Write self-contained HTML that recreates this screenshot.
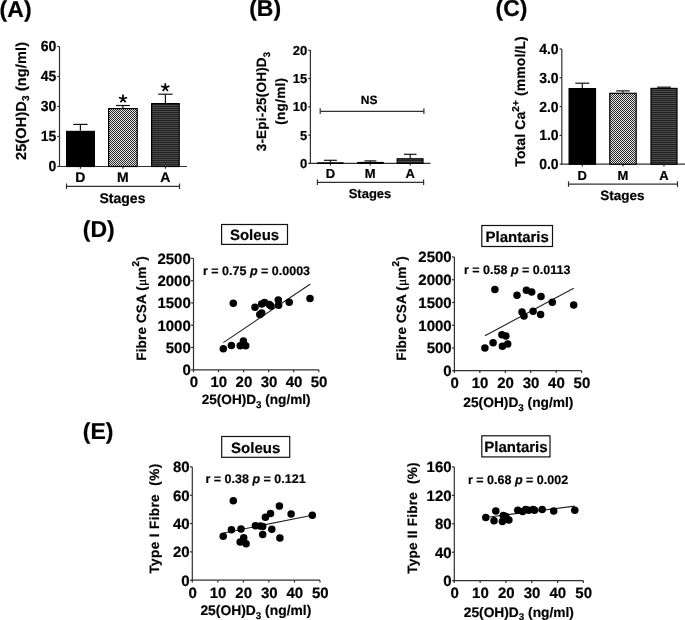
<!DOCTYPE html>
<html><head><meta charset="utf-8"><style>
html,body{margin:0;padding:0;background:#fff;width:685px;height:620px;overflow:hidden}
svg{display:block;will-change:transform}
</style></head><body>
<svg width="685" height="620" viewBox="0 0 685 620" font-family="Liberation Sans, sans-serif" font-weight="bold" fill="#000" text-rendering="geometricPrecision">
<style>text{stroke:#000;stroke-width:0.2px}</style>
<defs>
<pattern id="chk" width="2" height="2" patternUnits="userSpaceOnUse">
<rect width="2" height="2" fill="#e8e8e8"/><rect width="1" height="1" fill="#262626"/><rect x="1" y="1" width="1" height="1" fill="#262626"/>
</pattern>
<pattern id="hst" width="4" height="2" patternUnits="userSpaceOnUse">
<rect width="4" height="2" fill="#202020"/><rect y="1" width="4" height="1" fill="#4c4c4c"/>
</pattern>
</defs>
<text x="-0.4" y="16.8" font-size="23" text-anchor="start" >(A)</text>
<text x="249.2" y="16.4" font-size="23" text-anchor="start" >(B)</text>
<text x="495.6" y="16.4" font-size="23" text-anchor="start" >(C)</text>
<text x="82.8" y="236.6" font-size="23" text-anchor="start" >(D)</text>
<text x="82.8" y="439.2" font-size="23" text-anchor="start" >(E)</text>
<line x1="59.5" y1="46.5" x2="59.5" y2="166.5" stroke="#303030" stroke-width="1.2"/>
<line x1="57.3" y1="46.5" x2="59.5" y2="46.5" stroke="#303030" stroke-width="1.2"/>
<text x="56.3" y="48.686" font-size="14" text-anchor="end" transform="scale(1 1.05)" >60</text>
<line x1="57.3" y1="76.5" x2="59.5" y2="76.5" stroke="#303030" stroke-width="1.2"/>
<text x="56.3" y="77.257" font-size="14" text-anchor="end" transform="scale(1 1.05)" >45</text>
<line x1="57.3" y1="106.5" x2="59.5" y2="106.5" stroke="#303030" stroke-width="1.2"/>
<text x="56.3" y="105.829" font-size="14" text-anchor="end" transform="scale(1 1.05)" >30</text>
<line x1="57.3" y1="136.5" x2="59.5" y2="136.5" stroke="#303030" stroke-width="1.2"/>
<text x="56.3" y="134.400" font-size="14" text-anchor="end" transform="scale(1 1.05)" >15</text>
<line x1="57.3" y1="166.5" x2="59.5" y2="166.5" stroke="#303030" stroke-width="1.2"/>
<text x="56.3" y="162.971" font-size="14" text-anchor="end" transform="scale(1 1.05)" >0</text>
<line x1="58.9" y1="166.5" x2="187" y2="166.5" stroke="#303030" stroke-width="1.2"/>
<line x1="80.4" y1="166.5" x2="80.4" y2="168.7" stroke="#303030" stroke-width="1.2"/>
<line x1="122.9" y1="166.5" x2="122.9" y2="168.7" stroke="#303030" stroke-width="1.2"/>
<line x1="165.4" y1="166.5" x2="165.4" y2="168.7" stroke="#303030" stroke-width="1.2"/>
<rect x="66.6" y="131.4" width="27.8" height="35.09999999999999" fill="#000" stroke="#000" stroke-width="1.2"/>
<rect x="108.6" y="108.6" width="28.600000000000012" height="57.9" fill="url(#chk)" stroke="#000" stroke-width="1.2"/>
<rect x="151.6" y="103.6" width="27.600000000000012" height="62.9" fill="url(#hst)" stroke="#000" stroke-width="1.2"/>
<line x1="80.4" y1="124.4" x2="80.4" y2="130.8" stroke="#111" stroke-width="1.2"/>
<line x1="73.2" y1="124.4" x2="87.60000000000001" y2="124.4" stroke="#111" stroke-width="1.2"/>
<line x1="122.9" y1="105.5" x2="122.9" y2="108" stroke="#111" stroke-width="1.2"/>
<line x1="115.9" y1="105.5" x2="129.9" y2="105.5" stroke="#111" stroke-width="1.2"/>
<line x1="165.4" y1="94.2" x2="165.4" y2="103" stroke="#111" stroke-width="1.2"/>
<line x1="158.20000000000002" y1="94.2" x2="172.6" y2="94.2" stroke="#111" stroke-width="1.2"/>
<text x="80.4" y="181.9" font-size="14" text-anchor="middle" >D</text>
<text x="122.9" y="181.9" font-size="14" text-anchor="middle" >M</text>
<text x="165.4" y="181.9" font-size="14" text-anchor="middle" >A</text>
<line x1="66.5" y1="186.3" x2="179.5" y2="186.3" stroke="#303030" stroke-width="1.2"/>
<line x1="66.5" y1="183.5" x2="66.5" y2="189.10000000000002" stroke="#303030" stroke-width="1.2"/>
<line x1="179.5" y1="183.5" x2="179.5" y2="189.10000000000002" stroke="#303030" stroke-width="1.2"/>
<text x="122.5" y="202.5" font-size="14" text-anchor="middle" >Stages</text>
<path d="M123.00 98.80L123.00 94.50M123.00 98.80L127.09 97.47M123.00 98.80L125.53 102.28M123.00 98.80L120.47 102.28M123.00 98.80L118.91 97.47" stroke="#000" stroke-width="1.7" fill="none"/>
<path d="M165.30 87.50L165.30 83.20M165.30 87.50L169.39 86.17M165.30 87.50L167.83 90.98M165.30 87.50L162.77 90.98M165.30 87.50L161.21 86.17" stroke="#000" stroke-width="1.7" fill="none"/>
<text x="26.2" y="100.9" font-size="14.5" text-anchor="middle" transform="rotate(-90 26.2 100.9)" letter-spacing="0.15">25(OH)D<tspan font-size="10" dy="3.3">3</tspan><tspan dy="-3.3"> (ng/ml)</tspan></text>
<line x1="310.4" y1="50.3" x2="310.4" y2="163.4" stroke="#303030" stroke-width="1.2"/>
<line x1="308.2" y1="50.3" x2="310.4" y2="50.3" stroke="#303030" stroke-width="1.2"/>
<text x="307.2" y="54.98" font-size="13" text-anchor="end" >20</text>
<line x1="308.2" y1="78.5" x2="310.4" y2="78.5" stroke="#303030" stroke-width="1.2"/>
<text x="307.2" y="83.18" font-size="13" text-anchor="end" >15</text>
<line x1="308.2" y1="106.8" x2="310.4" y2="106.8" stroke="#303030" stroke-width="1.2"/>
<text x="307.2" y="111.47999999999999" font-size="13" text-anchor="end" >10</text>
<line x1="308.2" y1="135.1" x2="310.4" y2="135.1" stroke="#303030" stroke-width="1.2"/>
<text x="307.2" y="139.78" font-size="13" text-anchor="end" >5</text>
<line x1="308.2" y1="163.4" x2="310.4" y2="163.4" stroke="#303030" stroke-width="1.2"/>
<text x="307.2" y="168.08" font-size="13" text-anchor="end" >0</text>
<line x1="309.79999999999995" y1="163.4" x2="430.5" y2="163.4" stroke="#303030" stroke-width="1.2"/>
<line x1="330.4" y1="163.4" x2="330.4" y2="165.6" stroke="#303030" stroke-width="1.2"/>
<line x1="370.2" y1="163.4" x2="370.2" y2="165.6" stroke="#303030" stroke-width="1.2"/>
<line x1="410.2" y1="163.4" x2="410.2" y2="165.6" stroke="#303030" stroke-width="1.2"/>
<rect x="317.70000000000005" y="162.9" width="25.399999999999967" height="0.49999999999999434" fill="#000" stroke="#000" stroke-width="1.2"/>
<rect x="357.8" y="162.5" width="25.400000000000023" height="0.9" fill="url(#chk)" stroke="#000" stroke-width="1.2"/>
<rect x="397.20000000000005" y="158.79999999999998" width="25.8" height="4.600000000000017" fill="url(#hst)" stroke="#000" stroke-width="1.2"/>
<line x1="330.4" y1="160.3" x2="330.4" y2="163" stroke="#111" stroke-width="1.2"/>
<line x1="323.9" y1="160.3" x2="336.9" y2="160.3" stroke="#111" stroke-width="1.2"/>
<line x1="370.4" y1="160.9" x2="370.4" y2="162" stroke="#111" stroke-width="1.2"/>
<line x1="364.4" y1="160.9" x2="376.4" y2="160.9" stroke="#111" stroke-width="1.2"/>
<line x1="410.2" y1="154.3" x2="410.2" y2="158.2" stroke="#111" stroke-width="1.2"/>
<line x1="403.9" y1="154.3" x2="416.5" y2="154.3" stroke="#111" stroke-width="1.2"/>
<text x="330.4" y="178.2" font-size="13" text-anchor="middle" >D</text>
<text x="370.2" y="178.2" font-size="13" text-anchor="middle" >M</text>
<text x="410.2" y="178.2" font-size="13" text-anchor="middle" >A</text>
<line x1="317.4" y1="182.3" x2="423.6" y2="182.3" stroke="#303030" stroke-width="1.2"/>
<line x1="317.4" y1="179.5" x2="317.4" y2="185.10000000000002" stroke="#303030" stroke-width="1.2"/>
<line x1="423.6" y1="179.5" x2="423.6" y2="185.10000000000002" stroke="#303030" stroke-width="1.2"/>
<text x="370" y="197.9" font-size="13" text-anchor="middle" >Stages</text>
<line x1="320.2" y1="111.3" x2="423.9" y2="111.3" stroke="#333" stroke-width="1.2"/>
<line x1="320.2" y1="108.3" x2="320.2" y2="114.1" stroke="#333" stroke-width="1.2"/>
<line x1="423.9" y1="108.3" x2="423.9" y2="114.1" stroke="#333" stroke-width="1.2"/>
<text x="369.2" y="104.2" font-size="12" text-anchor="middle" >NS</text>
<text x="266.3" y="101.5" font-size="13.5" text-anchor="middle" transform="rotate(-90 266.3 101.5)" letter-spacing="0.2">3-Epi-25(OH)D<tspan font-size="9.5" dy="3.3">3</tspan></text>
<text x="284.6" y="101.2" font-size="13.5" text-anchor="middle" transform="rotate(-90 284.6 101.2)" letter-spacing="0.3">(ng/ml)</text>
<line x1="561.8" y1="49" x2="561.8" y2="164.2" stroke="#303030" stroke-width="1.2"/>
<line x1="559.5999999999999" y1="49" x2="561.8" y2="49" stroke="#303030" stroke-width="1.2"/>
<text x="558.5999999999999" y="51.400" font-size="14" text-anchor="end" transform="scale(1 1.05)" >4.0</text>
<line x1="559.5999999999999" y1="77.8" x2="561.8" y2="77.8" stroke="#303030" stroke-width="1.2"/>
<text x="558.5999999999999" y="78.829" font-size="14" text-anchor="end" transform="scale(1 1.05)" >3.0</text>
<line x1="559.5999999999999" y1="106.6" x2="561.8" y2="106.6" stroke="#303030" stroke-width="1.2"/>
<text x="558.5999999999999" y="106.257" font-size="14" text-anchor="end" transform="scale(1 1.05)" >2.0</text>
<line x1="559.5999999999999" y1="135.4" x2="561.8" y2="135.4" stroke="#303030" stroke-width="1.2"/>
<text x="558.5999999999999" y="133.686" font-size="14" text-anchor="end" transform="scale(1 1.05)" >1.0</text>
<line x1="559.5999999999999" y1="164.2" x2="561.8" y2="164.2" stroke="#303030" stroke-width="1.2"/>
<text x="558.5999999999999" y="161.114" font-size="14" text-anchor="end" transform="scale(1 1.05)" >0.0</text>
<line x1="561.1999999999999" y1="164.2" x2="685" y2="164.2" stroke="#303030" stroke-width="1.2"/>
<line x1="582.3" y1="164.2" x2="582.3" y2="166.39999999999998" stroke="#303030" stroke-width="1.2"/>
<line x1="623" y1="164.2" x2="623" y2="166.39999999999998" stroke="#303030" stroke-width="1.2"/>
<line x1="664" y1="164.2" x2="664" y2="166.39999999999998" stroke="#303030" stroke-width="1.2"/>
<rect x="569.1" y="88.6" width="26.400000000000023" height="75.6" fill="#000" stroke="#000" stroke-width="1.2"/>
<rect x="609.8000000000001" y="93.3" width="26.39999999999991" height="70.89999999999999" fill="url(#chk)" stroke="#000" stroke-width="1.2"/>
<rect x="651.0" y="88.39999999999999" width="26.000000000000046" height="75.8" fill="url(#hst)" stroke="#000" stroke-width="1.2"/>
<line x1="582.3" y1="83.2" x2="582.3" y2="88" stroke="#111" stroke-width="1.2"/>
<line x1="575.3" y1="83.2" x2="589.3" y2="83.2" stroke="#111" stroke-width="1.2"/>
<line x1="623" y1="90.9" x2="623" y2="92.7" stroke="#111" stroke-width="1.2"/>
<line x1="616.2" y1="90.9" x2="629.8" y2="90.9" stroke="#111" stroke-width="1.2"/>
<line x1="664" y1="87.2" x2="664" y2="87.8" stroke="#111" stroke-width="1.2"/>
<line x1="657.1" y1="87.2" x2="670.9" y2="87.2" stroke="#111" stroke-width="1.2"/>
<text x="582.3" y="180" font-size="13" text-anchor="middle" >D</text>
<text x="623" y="180" font-size="13" text-anchor="middle" >M</text>
<text x="664" y="180" font-size="13" text-anchor="middle" >A</text>
<line x1="568.5" y1="184.1" x2="677.5" y2="184.1" stroke="#303030" stroke-width="1.2"/>
<line x1="568.5" y1="181.29999999999998" x2="568.5" y2="186.9" stroke="#303030" stroke-width="1.2"/>
<line x1="677.5" y1="181.29999999999998" x2="677.5" y2="186.9" stroke="#303030" stroke-width="1.2"/>
<text x="622.5" y="199.8" font-size="13.5" text-anchor="middle" >Stages</text>
<text x="525.5" y="101.4" font-size="14" text-anchor="middle" transform="rotate(-90 525.5 101.4)" letter-spacing="0.1">Total Ca<tspan font-size="10" dy="-6">2+</tspan><tspan dy="6"> (mmol/L)</tspan></text>
<line x1="193.5" y1="258.4" x2="193.5" y2="369.8" stroke="#303030" stroke-width="1.2"/>
<line x1="191.1" y1="258.4" x2="193.5" y2="258.4" stroke="#303030" stroke-width="1.2"/>
<text x="190.8" y="263.79999999999995" font-size="15" text-anchor="end" >2500</text>
<line x1="191.1" y1="280.68" x2="193.5" y2="280.68" stroke="#303030" stroke-width="1.2"/>
<text x="190.8" y="286.08" font-size="15" text-anchor="end" >2000</text>
<line x1="191.1" y1="302.96" x2="193.5" y2="302.96" stroke="#303030" stroke-width="1.2"/>
<text x="190.8" y="308.35999999999996" font-size="15" text-anchor="end" >1500</text>
<line x1="191.1" y1="325.24" x2="193.5" y2="325.24" stroke="#303030" stroke-width="1.2"/>
<text x="190.8" y="330.64" font-size="15" text-anchor="end" >1000</text>
<line x1="191.1" y1="347.52" x2="193.5" y2="347.52" stroke="#303030" stroke-width="1.2"/>
<text x="190.8" y="352.91999999999996" font-size="15" text-anchor="end" >500</text>
<line x1="191.1" y1="369.8" x2="193.5" y2="369.8" stroke="#303030" stroke-width="1.2"/>
<text x="190.8" y="375.2" font-size="15" text-anchor="end" >0</text>
<line x1="192.9" y1="369.8" x2="318.8" y2="369.8" stroke="#303030" stroke-width="1.2"/>
<line x1="193.5" y1="369.8" x2="193.5" y2="372.2" stroke="#303030" stroke-width="1.2"/>
<text x="193.8" y="387.1" font-size="15" text-anchor="middle" >0</text>
<line x1="218.56" y1="369.8" x2="218.56" y2="372.2" stroke="#303030" stroke-width="1.2"/>
<text x="218.86" y="387.1" font-size="15" text-anchor="middle" >10</text>
<line x1="243.62" y1="369.8" x2="243.62" y2="372.2" stroke="#303030" stroke-width="1.2"/>
<text x="243.92000000000002" y="387.1" font-size="15" text-anchor="middle" >20</text>
<line x1="268.68" y1="369.8" x2="268.68" y2="372.2" stroke="#303030" stroke-width="1.2"/>
<text x="268.98" y="387.1" font-size="15" text-anchor="middle" >30</text>
<line x1="293.74" y1="369.8" x2="293.74" y2="372.2" stroke="#303030" stroke-width="1.2"/>
<text x="294.04" y="387.1" font-size="15" text-anchor="middle" >40</text>
<line x1="318.8" y1="369.8" x2="318.8" y2="372.2" stroke="#303030" stroke-width="1.2"/>
<text x="319.1" y="387.1" font-size="15" text-anchor="middle" >50</text>
<rect x="221.6" y="224.5" width="65.9" height="19.900000000000006" fill="none" stroke="#111" stroke-width="1.2"/>
<text x="254.55" y="239.8" font-size="15" text-anchor="middle" >Soleus</text>
<text x="203.0" y="274.8" font-size="12.5" text-anchor="start" >r = 0.75 <tspan font-style="italic">p</tspan> = 0.0003</text>
<line x1="223.3" y1="342.6" x2="310.4" y2="284" stroke="#222" stroke-width="1.1"/>
<circle cx="223.3" cy="348.7" r="3.75" fill="#000"/>
<circle cx="231.4" cy="345.4" r="3.75" fill="#000"/>
<circle cx="233.3" cy="303.3" r="3.75" fill="#000"/>
<circle cx="240.2" cy="345.8" r="3.75" fill="#000"/>
<circle cx="243.4" cy="341" r="3.75" fill="#000"/>
<circle cx="245.7" cy="345.8" r="3.75" fill="#000"/>
<circle cx="255" cy="307.3" r="3.75" fill="#000"/>
<circle cx="259.8" cy="314.5" r="3.75" fill="#000"/>
<circle cx="261.7" cy="312.9" r="3.75" fill="#000"/>
<circle cx="261.7" cy="304.1" r="3.75" fill="#000"/>
<circle cx="264.6" cy="302.5" r="3.75" fill="#000"/>
<circle cx="269.4" cy="304.4" r="3.75" fill="#000"/>
<circle cx="271" cy="306" r="3.75" fill="#000"/>
<circle cx="278.3" cy="300.1" r="3.75" fill="#000"/>
<circle cx="278.6" cy="305.2" r="3.75" fill="#000"/>
<circle cx="289.2" cy="302.2" r="3.75" fill="#000"/>
<circle cx="310" cy="298.5" r="3.75" fill="#000"/>
<text x="146.3" y="308.4" font-size="13.5" text-anchor="middle" transform="rotate(-90 146.3 308.4)" letter-spacing="0.15">Fibre CSA (<tspan font-family="Liberation Serif, serif" font-weight="normal">μ</tspan>m<tspan font-size="10" dy="-6.8">2</tspan><tspan dy="6.8">)</tspan></text>
<text x="256.15" y="404.2" font-size="13.6" text-anchor="middle" >25(OH)D<tspan font-size="9.8" dy="3.6">3</tspan><tspan dy="-3.6"> (ng/ml)</tspan></text>
<line x1="454.4" y1="257" x2="454.4" y2="370.7" stroke="#303030" stroke-width="1.2"/>
<line x1="452.0" y1="257.0" x2="454.4" y2="257.0" stroke="#303030" stroke-width="1.2"/>
<text x="451.7" y="262.4" font-size="15" text-anchor="end" >2500</text>
<line x1="452.0" y1="279.74" x2="454.4" y2="279.74" stroke="#303030" stroke-width="1.2"/>
<text x="451.7" y="285.14" font-size="15" text-anchor="end" >2000</text>
<line x1="452.0" y1="302.48" x2="454.4" y2="302.48" stroke="#303030" stroke-width="1.2"/>
<text x="451.7" y="307.88" font-size="15" text-anchor="end" >1500</text>
<line x1="452.0" y1="325.22" x2="454.4" y2="325.22" stroke="#303030" stroke-width="1.2"/>
<text x="451.7" y="330.62" font-size="15" text-anchor="end" >1000</text>
<line x1="452.0" y1="347.96" x2="454.4" y2="347.96" stroke="#303030" stroke-width="1.2"/>
<text x="451.7" y="353.35999999999996" font-size="15" text-anchor="end" >500</text>
<line x1="452.0" y1="370.7" x2="454.4" y2="370.7" stroke="#303030" stroke-width="1.2"/>
<text x="451.7" y="376.09999999999997" font-size="15" text-anchor="end" >0</text>
<line x1="453.79999999999995" y1="370.7" x2="581.6" y2="370.7" stroke="#303030" stroke-width="1.2"/>
<line x1="454.4" y1="370.7" x2="454.4" y2="373.09999999999997" stroke="#303030" stroke-width="1.2"/>
<text x="454.7" y="388.0" font-size="15" text-anchor="middle" >0</text>
<line x1="479.84" y1="370.7" x2="479.84" y2="373.09999999999997" stroke="#303030" stroke-width="1.2"/>
<text x="480.14" y="388.0" font-size="15" text-anchor="middle" >10</text>
<line x1="505.28" y1="370.7" x2="505.28" y2="373.09999999999997" stroke="#303030" stroke-width="1.2"/>
<text x="505.58" y="388.0" font-size="15" text-anchor="middle" >20</text>
<line x1="530.72" y1="370.7" x2="530.72" y2="373.09999999999997" stroke="#303030" stroke-width="1.2"/>
<text x="531.02" y="388.0" font-size="15" text-anchor="middle" >30</text>
<line x1="556.16" y1="370.7" x2="556.16" y2="373.09999999999997" stroke="#303030" stroke-width="1.2"/>
<text x="556.4599999999999" y="388.0" font-size="15" text-anchor="middle" >40</text>
<line x1="581.6" y1="370.7" x2="581.6" y2="373.09999999999997" stroke="#303030" stroke-width="1.2"/>
<text x="581.9" y="388.0" font-size="15" text-anchor="middle" >50</text>
<rect x="481.8" y="225.5" width="70.69999999999999" height="21.0" fill="none" stroke="#111" stroke-width="1.2"/>
<text x="517.15" y="241.9" font-size="15" text-anchor="middle" >Plantaris</text>
<text x="464.0" y="273.9" font-size="12.5" text-anchor="start" >r = 0.58 <tspan font-style="italic">p</tspan> = 0.0113</text>
<line x1="484.9" y1="335.7" x2="573.7" y2="288.2" stroke="#222" stroke-width="1.1"/>
<circle cx="484.9" cy="348" r="3.75" fill="#000"/>
<circle cx="493.1" cy="342.7" r="3.75" fill="#000"/>
<circle cx="494.9" cy="289.6" r="3.75" fill="#000"/>
<circle cx="501.9" cy="334.8" r="3.75" fill="#000"/>
<circle cx="505.9" cy="336.1" r="3.75" fill="#000"/>
<circle cx="502.4" cy="346.2" r="3.75" fill="#000"/>
<circle cx="507.7" cy="343.9" r="3.75" fill="#000"/>
<circle cx="517" cy="295.2" r="3.75" fill="#000"/>
<circle cx="522" cy="312.1" r="3.75" fill="#000"/>
<circle cx="524" cy="315.9" r="3.75" fill="#000"/>
<circle cx="526.4" cy="290.2" r="3.75" fill="#000"/>
<circle cx="531.7" cy="291.9" r="3.75" fill="#000"/>
<circle cx="533.1" cy="311.2" r="3.75" fill="#000"/>
<circle cx="541" cy="296.6" r="3.75" fill="#000"/>
<circle cx="540.6" cy="314.5" r="3.75" fill="#000"/>
<circle cx="552.3" cy="302.2" r="3.75" fill="#000"/>
<circle cx="573.7" cy="305.1" r="3.75" fill="#000"/>
<text x="406.3" y="308.4" font-size="13.5" text-anchor="middle" transform="rotate(-90 406.3 308.4)" letter-spacing="0.15">Fibre CSA (<tspan font-family="Liberation Serif, serif" font-weight="normal">μ</tspan>m<tspan font-size="10" dy="-6.8">2</tspan><tspan dy="6.8">)</tspan></text>
<text x="518.4" y="407.0" font-size="13.75" text-anchor="middle" >25(OH)D<tspan font-size="9.8" dy="3.6">3</tspan><tspan dy="-3.6"> (ng/ml)</tspan></text>
<line x1="192.3" y1="466.9" x2="192.3" y2="580.2" stroke="#303030" stroke-width="1.2"/>
<line x1="189.9" y1="466.9" x2="192.3" y2="466.9" stroke="#303030" stroke-width="1.2"/>
<text x="189.60000000000002" y="472.29999999999995" font-size="15" text-anchor="end" >80</text>
<line x1="189.9" y1="495.225" x2="192.3" y2="495.225" stroke="#303030" stroke-width="1.2"/>
<text x="189.60000000000002" y="500.625" font-size="15" text-anchor="end" >60</text>
<line x1="189.9" y1="523.55" x2="192.3" y2="523.55" stroke="#303030" stroke-width="1.2"/>
<text x="189.60000000000002" y="528.9499999999999" font-size="15" text-anchor="end" >40</text>
<line x1="189.9" y1="551.875" x2="192.3" y2="551.875" stroke="#303030" stroke-width="1.2"/>
<text x="189.60000000000002" y="557.275" font-size="15" text-anchor="end" >20</text>
<line x1="189.9" y1="580.2" x2="192.3" y2="580.2" stroke="#303030" stroke-width="1.2"/>
<text x="189.60000000000002" y="585.6" font-size="15" text-anchor="end" >0</text>
<line x1="191.70000000000002" y1="580.2" x2="320" y2="580.2" stroke="#303030" stroke-width="1.2"/>
<line x1="192.3" y1="580.2" x2="192.3" y2="582.6" stroke="#303030" stroke-width="1.2"/>
<text x="192.60000000000002" y="597.5" font-size="15" text-anchor="middle" >0</text>
<line x1="217.84" y1="580.2" x2="217.84" y2="582.6" stroke="#303030" stroke-width="1.2"/>
<text x="218.14000000000001" y="597.5" font-size="15" text-anchor="middle" >10</text>
<line x1="243.38" y1="580.2" x2="243.38" y2="582.6" stroke="#303030" stroke-width="1.2"/>
<text x="243.68" y="597.5" font-size="15" text-anchor="middle" >20</text>
<line x1="268.92" y1="580.2" x2="268.92" y2="582.6" stroke="#303030" stroke-width="1.2"/>
<text x="269.22" y="597.5" font-size="15" text-anchor="middle" >30</text>
<line x1="294.46000000000004" y1="580.2" x2="294.46000000000004" y2="582.6" stroke="#303030" stroke-width="1.2"/>
<text x="294.76000000000005" y="597.5" font-size="15" text-anchor="middle" >40</text>
<line x1="320.0" y1="580.2" x2="320.0" y2="582.6" stroke="#303030" stroke-width="1.2"/>
<text x="320.3" y="597.5" font-size="15" text-anchor="middle" >50</text>
<rect x="221.7" y="436.5" width="68.0" height="20.80000000000001" fill="none" stroke="#111" stroke-width="1.2"/>
<text x="255.7" y="452.7" font-size="15" text-anchor="middle" >Soleus</text>
<text x="205.5" y="483.1" font-size="12.5" text-anchor="start" >r = 0.38 <tspan font-style="italic">p</tspan> = 0.121</text>
<line x1="223.7" y1="533" x2="312.3" y2="515.2" stroke="#222" stroke-width="1.1"/>
<circle cx="223.2" cy="536.3" r="3.75" fill="#000"/>
<circle cx="231.4" cy="529.7" r="3.75" fill="#000"/>
<circle cx="233.3" cy="500.8" r="3.75" fill="#000"/>
<circle cx="241" cy="529" r="3.75" fill="#000"/>
<circle cx="243.7" cy="537.7" r="3.75" fill="#000"/>
<circle cx="240.2" cy="541.9" r="3.75" fill="#000"/>
<circle cx="246.1" cy="543.8" r="3.75" fill="#000"/>
<circle cx="255.4" cy="525.8" r="3.75" fill="#000"/>
<circle cx="260.3" cy="526.1" r="3.75" fill="#000"/>
<circle cx="262.7" cy="526.6" r="3.75" fill="#000"/>
<circle cx="262.7" cy="534.5" r="3.75" fill="#000"/>
<circle cx="265.4" cy="517.3" r="3.75" fill="#000"/>
<circle cx="270.5" cy="513.6" r="3.75" fill="#000"/>
<circle cx="271.8" cy="529.3" r="3.75" fill="#000"/>
<circle cx="279.4" cy="506.1" r="3.75" fill="#000"/>
<circle cx="279.9" cy="537.9" r="3.75" fill="#000"/>
<circle cx="291.1" cy="514.1" r="3.75" fill="#000"/>
<circle cx="312.3" cy="515.2" r="3.75" fill="#000"/>
<text x="158.6" y="518.5" font-size="13.5" text-anchor="middle" transform="rotate(-90 158.6 518.5)" letter-spacing="0.4">Type I Fibre  (%)</text>
<text x="255.84999999999997" y="615.2" font-size="13.85" text-anchor="middle" >25(OH)D<tspan font-size="9.8" dy="3.6">3</tspan><tspan dy="-3.6"> (ng/ml)</tspan></text>
<line x1="454.3" y1="466.9" x2="454.3" y2="580.7" stroke="#303030" stroke-width="1.2"/>
<line x1="451.90000000000003" y1="466.9" x2="454.3" y2="466.9" stroke="#303030" stroke-width="1.2"/>
<text x="451.6" y="472.29999999999995" font-size="15" text-anchor="end" >160</text>
<line x1="451.90000000000003" y1="495.35" x2="454.3" y2="495.35" stroke="#303030" stroke-width="1.2"/>
<text x="451.6" y="500.75" font-size="15" text-anchor="end" >120</text>
<line x1="451.90000000000003" y1="523.8" x2="454.3" y2="523.8" stroke="#303030" stroke-width="1.2"/>
<text x="451.6" y="529.1999999999999" font-size="15" text-anchor="end" >80</text>
<line x1="451.90000000000003" y1="552.25" x2="454.3" y2="552.25" stroke="#303030" stroke-width="1.2"/>
<text x="451.6" y="557.65" font-size="15" text-anchor="end" >40</text>
<line x1="451.90000000000003" y1="580.7" x2="454.3" y2="580.7" stroke="#303030" stroke-width="1.2"/>
<text x="451.6" y="586.1" font-size="15" text-anchor="end" >0</text>
<line x1="453.7" y1="580.7" x2="583.4" y2="580.7" stroke="#303030" stroke-width="1.2"/>
<line x1="454.3" y1="580.7" x2="454.3" y2="583.1" stroke="#303030" stroke-width="1.2"/>
<text x="454.6" y="598.0" font-size="15" text-anchor="middle" >0</text>
<line x1="480.12" y1="580.7" x2="480.12" y2="583.1" stroke="#303030" stroke-width="1.2"/>
<text x="480.42" y="598.0" font-size="15" text-anchor="middle" >10</text>
<line x1="505.94" y1="580.7" x2="505.94" y2="583.1" stroke="#303030" stroke-width="1.2"/>
<text x="506.24" y="598.0" font-size="15" text-anchor="middle" >20</text>
<line x1="531.76" y1="580.7" x2="531.76" y2="583.1" stroke="#303030" stroke-width="1.2"/>
<text x="532.06" y="598.0" font-size="15" text-anchor="middle" >30</text>
<line x1="557.5799999999999" y1="580.7" x2="557.5799999999999" y2="583.1" stroke="#303030" stroke-width="1.2"/>
<text x="557.8799999999999" y="598.0" font-size="15" text-anchor="middle" >40</text>
<line x1="583.4" y1="580.7" x2="583.4" y2="583.1" stroke="#303030" stroke-width="1.2"/>
<text x="583.6999999999999" y="598.0" font-size="15" text-anchor="middle" >50</text>
<rect x="481.8" y="435.8" width="68.19999999999999" height="21.099999999999966" fill="none" stroke="#111" stroke-width="1.2"/>
<text x="515.9" y="452.29999999999995" font-size="15" text-anchor="middle" >Plantaris</text>
<text x="468.0" y="483.8" font-size="12.5" text-anchor="start" >r = 0.68 <tspan font-style="italic">p</tspan> = 0.002</text>
<line x1="489.3" y1="517" x2="574.8" y2="506.1" stroke="#222" stroke-width="1.1"/>
<circle cx="485.8" cy="517.5" r="3.75" fill="#000"/>
<circle cx="494" cy="520.7" r="3.75" fill="#000"/>
<circle cx="495.8" cy="510.9" r="3.75" fill="#000"/>
<circle cx="503.3" cy="515.4" r="3.75" fill="#000"/>
<circle cx="502.4" cy="521.4" r="3.75" fill="#000"/>
<circle cx="505.9" cy="516.6" r="3.75" fill="#000"/>
<circle cx="508.9" cy="520.1" r="3.75" fill="#000"/>
<circle cx="517.8" cy="510.2" r="3.75" fill="#000"/>
<circle cx="522.6" cy="511.4" r="3.75" fill="#000"/>
<circle cx="525.7" cy="509.6" r="3.75" fill="#000"/>
<circle cx="528.7" cy="510.2" r="3.75" fill="#000"/>
<circle cx="533.1" cy="509.6" r="3.75" fill="#000"/>
<circle cx="534.5" cy="510.2" r="3.75" fill="#000"/>
<circle cx="542.2" cy="509.6" r="3.75" fill="#000"/>
<circle cx="553.7" cy="510.9" r="3.75" fill="#000"/>
<circle cx="574.8" cy="510.2" r="3.75" fill="#000"/>
<text x="417" y="518" font-size="13.5" text-anchor="middle" transform="rotate(-90 417 518)" letter-spacing="0.25">Type II Fibre  (%)</text>
<text x="518.85" y="616.5" font-size="13.75" text-anchor="middle" >25(OH)D<tspan font-size="9.8" dy="3.6">3</tspan><tspan dy="-3.6"> (ng/ml)</tspan></text>
</svg>
</body></html>
